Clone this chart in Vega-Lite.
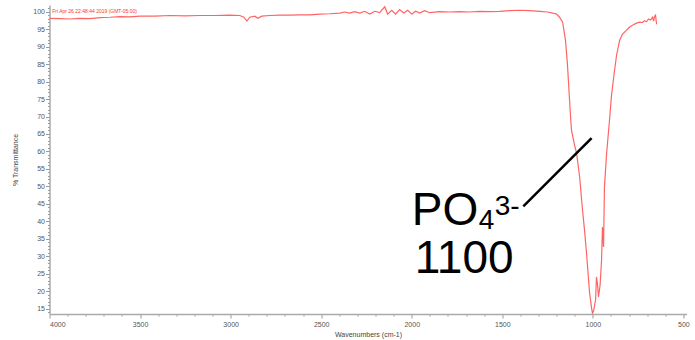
{
  "$schema": "https://vega.github.io/schema/vega-lite/v6.json",
  "autosize": "none",
  "width": 637,
  "height": 309,
  "padding": {"left": 49.5, "top": 5, "right": 8.5, "bottom": 26},
  "background": "white",
  "config": {"view": {"stroke": null}, "font": "Liberation Sans"},
  "datasets": {
    "spectrum": [
      {"wn": 4000, "v": 98.1}, {"wn": 3942, "v": 98.0}, {"wn": 3887, "v": 97.9}, {"wn": 3832, "v": 98.1},
      {"wn": 3777, "v": 98.0}, {"wn": 3721, "v": 98.3}, {"wn": 3666, "v": 98.4}, {"wn": 3611, "v": 98.6},
      {"wn": 3556, "v": 98.5}, {"wn": 3501, "v": 98.7}, {"wn": 3418, "v": 98.7}, {"wn": 3335, "v": 98.9},
      {"wn": 3253, "v": 98.8}, {"wn": 3170, "v": 98.9}, {"wn": 3087, "v": 98.9}, {"wn": 3004, "v": 99.0},
      {"wn": 2949, "v": 98.9}, {"wn": 2927, "v": 98.4}, {"wn": 2910, "v": 97.3}, {"wn": 2894, "v": 98.4},
      {"wn": 2866, "v": 98.7}, {"wn": 2850, "v": 98.1}, {"wn": 2828, "v": 98.7}, {"wn": 2784, "v": 98.9},
      {"wn": 2728, "v": 99.0}, {"wn": 2673, "v": 99.0}, {"wn": 2618, "v": 99.1}, {"wn": 2563, "v": 99.1},
      {"wn": 2508, "v": 99.3}, {"wn": 2453, "v": 99.4}, {"wn": 2397, "v": 99.6}, {"wn": 2370, "v": 99.9},
      {"wn": 2342, "v": 99.6}, {"wn": 2315, "v": 100.0}, {"wn": 2287, "v": 99.6}, {"wn": 2260, "v": 100.1},
      {"wn": 2232, "v": 99.3}, {"wn": 2204, "v": 100.1}, {"wn": 2177, "v": 99.7}, {"wn": 2149, "v": 101.4},
      {"wn": 2133, "v": 99.3}, {"wn": 2111, "v": 100.4}, {"wn": 2089, "v": 99.3}, {"wn": 2067, "v": 100.6},
      {"wn": 2045, "v": 99.6}, {"wn": 2022, "v": 100.4}, {"wn": 2000, "v": 99.3}, {"wn": 1978, "v": 100.1},
      {"wn": 1956, "v": 99.6}, {"wn": 1929, "v": 100.3}, {"wn": 1901, "v": 99.7}, {"wn": 1846, "v": 100.0},
      {"wn": 1791, "v": 99.9}, {"wn": 1736, "v": 100.0}, {"wn": 1681, "v": 99.9}, {"wn": 1625, "v": 100.1},
      {"wn": 1570, "v": 100.0}, {"wn": 1515, "v": 100.1}, {"wn": 1460, "v": 100.3}, {"wn": 1405, "v": 100.4},
      {"wn": 1349, "v": 100.3}, {"wn": 1294, "v": 100.1}, {"wn": 1250, "v": 99.9}, {"wn": 1222, "v": 99.6},
      {"wn": 1200, "v": 99.3}, {"wn": 1184, "v": 98.4}, {"wn": 1167, "v": 97.0}, {"wn": 1151, "v": 91.8},
      {"wn": 1140, "v": 84.7}, {"wn": 1132, "v": 77.6}, {"wn": 1123, "v": 69.8}, {"wn": 1118, "v": 66.1},
      {"wn": 1107, "v": 63.3}, {"wn": 1101, "v": 61.8}, {"wn": 1090, "v": 59.5}, {"wn": 1073, "v": 52.7},
      {"wn": 1057, "v": 43.2}, {"wn": 1046, "v": 37.5}, {"wn": 1035, "v": 30.9}, {"wn": 1018, "v": 19.5},
      {"wn": 1007, "v": 15.2}, {"wn": 1002, "v": 13.7}, {"wn": 996, "v": 14.4}, {"wn": 985, "v": 17.5},
      {"wn": 980, "v": 24.1}, {"wn": 974, "v": 21.8}, {"wn": 969, "v": 18.4}, {"wn": 960, "v": 21.8},
      {"wn": 952, "v": 28.9}, {"wn": 947, "v": 38.4}, {"wn": 941, "v": 32.7}, {"wn": 936, "v": 49.8},
      {"wn": 924, "v": 59.5}, {"wn": 908, "v": 69.0}, {"wn": 897, "v": 76.1}, {"wn": 880, "v": 83.3},
      {"wn": 869, "v": 87.6}, {"wn": 852, "v": 91.8}, {"wn": 836, "v": 93.6}, {"wn": 814, "v": 94.7},
      {"wn": 797, "v": 95.6}, {"wn": 781, "v": 96.1}, {"wn": 759, "v": 96.7}, {"wn": 742, "v": 97.0},
      {"wn": 726, "v": 96.9}, {"wn": 715, "v": 97.4}, {"wn": 704, "v": 97.1}, {"wn": 693, "v": 97.9},
      {"wn": 682, "v": 97.6}, {"wn": 670, "v": 98.4}, {"wn": 665, "v": 97.3}, {"wn": 659, "v": 98.7},
      {"wn": 654, "v": 99.0}, {"wn": 648, "v": 96.4}
    ],
    "bigText": [
      {"wn": 2000, "v": 38.95, "text": "PO"},
      {"wn": 1984, "v": 25.2, "text": "1100"}
    ],
    "smallText": [
      {"wn": 1630, "v": 37.8, "text": "4"},
      {"wn": 1542, "v": 41.8, "text": "3-"}
    ],
    "stamp": [
      {"wn": 3985, "v": 100.3, "text": "Fri Apr 26 22:48:44 2019 (GMT-05:00)"}
    ],
    "pointer": [
      {"wn": 1384, "v": 44.3, "wn2": 1007, "v2": 63.8}
    ]
  },
  "encoding": {
    "x": {
      "field": "wn", "type": "quantitative",
      "scale": {"domain": [4000, 483], "nice": false, "zero": false},
      "axis": {
        "title": "Wavenumbers (cm-1)",
        "values": [500,600,700,800,900,1000,1100,1200,1300,1400,1500,1600,1700,1800,1900,2000,2100,2200,2300,2400,2500,2600,2700,2800,2900,3000,3100,3200,3300,3400,3500,3600,3700,3800,3900,4000],
        "labelExpr": "datum.value % 500 === 0 ? datum.label : ''",
        "format": "d",
        "labelOverlap": false,
        "labelFontSize": 7, "labelColor": "#555", "labelPadding": 2,
        "tickSize": {"condition": {"test": "datum.value % 500 === 0", "value": 4}, "value": 2},
        "tickColor": "#999", "domainColor": "#aaa", "domainWidth": 1.5,
        "titleFontSize": 7, "titleFontWeight": "normal", "titleColor": "#444", "titlePadding": 3,
        "grid": false
      }
    },
    "y": {
      "field": "v", "type": "quantitative",
      "scale": {"domain": [13.5, 101.9], "nice": false, "zero": false},
      "axis": {
        "title": "% Transmittance",
        "values": [14,15,16,17,18,19,20,21,22,23,24,25,26,27,28,29,30,31,32,33,34,35,36,37,38,39,40,41,42,43,44,45,46,47,48,49,50,51,52,53,54,55,56,57,58,59,60,61,62,63,64,65,66,67,68,69,70,71,72,73,74,75,76,77,78,79,80,81,82,83,84,85,86,87,88,89,90,91,92,93,94,95,96,97,98,99,100,101],
        "labelExpr": "datum.value % 5 === 0 ? datum.label : ''",
        "labelOverlap": false,
        "labelFontSize": 7, "labelColor": "#555", "labelPadding": 1,
        "tickSize": {"condition": {"test": "datum.value % 5 === 0", "value": 4}, "value": 2},
        "tickColor": "#999", "domainColor": "#aaa", "domainWidth": 1.5,
        "titleFontSize": 7, "titleFontWeight": "normal", "titleColor": "#444", "titlePadding": 14,
        "grid": false
      }
    }
  },
  "layer": [
    {
      "data": {"name": "spectrum"},
      "mark": {"type": "line", "color": "#ff6464", "strokeWidth": 1.2, "clip": true}
    },
    {
      "data": {"name": "stamp"},
      "mark": {"type": "text", "align": "left", "baseline": "middle", "fontSize": 5, "color": "#ff3030"},
      "encoding": {"text": {"field": "text"}}
    },
    {
      "data": {"name": "pointer"},
      "mark": {"type": "rule", "color": "black", "strokeWidth": 2.5},
      "encoding": {"x2": {"field": "wn2"}, "y2": {"field": "v2"}}
    },
    {
      "data": {"name": "bigText"},
      "mark": {"type": "text", "align": "left", "baseline": "alphabetic", "fontSize": 46, "color": "black"},
      "encoding": {"text": {"field": "text"}}
    },
    {
      "data": {"name": "smallText"},
      "mark": {"type": "text", "align": "left", "baseline": "alphabetic", "fontSize": 28, "color": "black"},
      "encoding": {"text": {"field": "text"}}
    }
  ]
}
